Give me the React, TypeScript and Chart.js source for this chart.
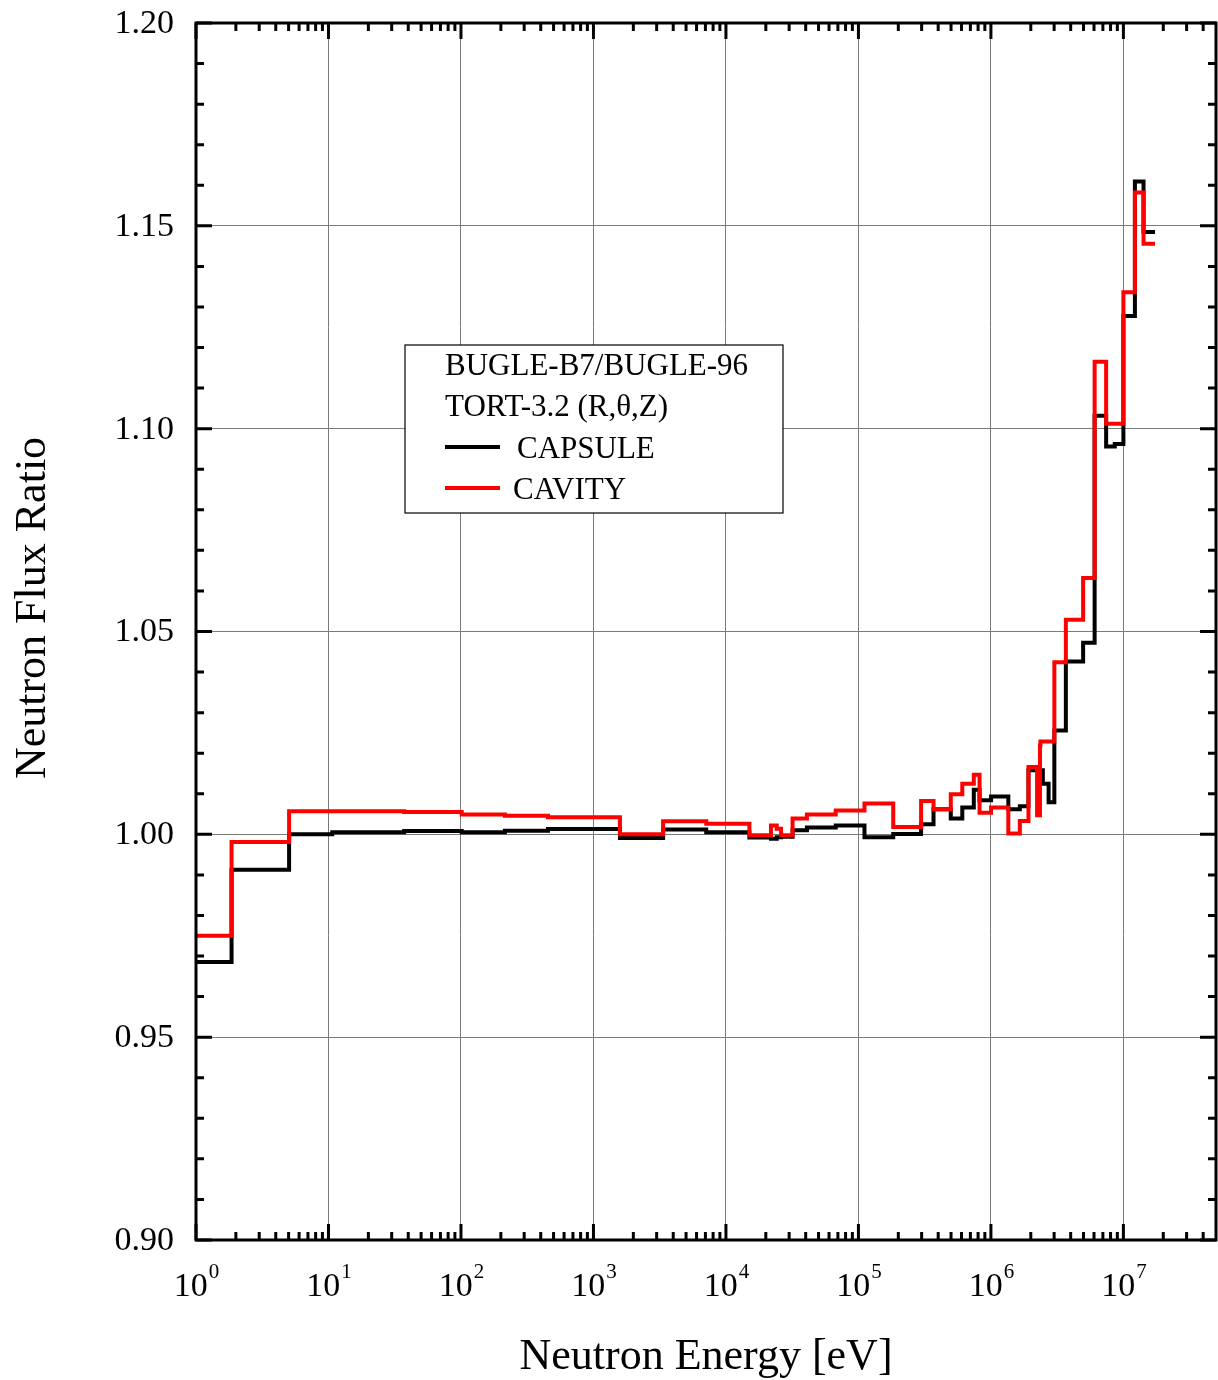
import React, { useEffect, useRef } from 'react';
import { Chart, registerables } from 'chart.js';

Chart.register(...registerables);

// BUGLE-96 group lower energy bounds (eV), ascending, for groups shown
const groupLowerEdges = [
  0.87642, 1.8554, 5.0435, 10.677, 37.267, 101.3, 214.45, 454.0, 1584.6, 3354.6,
  7101.7, 15034, 21875, 24176, 26058, 31828, 40868, 67379, 111090, 183160,
  297210, 368830, 497870, 608100, 742740, 820850, 1002600, 1353400, 1653000, 1920500,
  2231300, 2345700, 2365300, 2466000, 2725300, 3011900, 3678800, 4965900, 6065300, 7408200,
  8607100, 10000000, 12214000, 14191000,
];
const groupTopEdge = 17332000;

const capsuleRatio = [
  0.9685, 0.9913, 1.0, 1.0005, 1.0008, 1.0005, 1.0009, 1.0013, 0.9991, 1.0012,
  1.0005, 0.9992, 0.9989, 0.9993, 0.9994, 1.001, 1.0017, 1.0022, 0.9993, 1.0001,
  1.0025, 1.0062, 1.0039, 1.0066, 1.011, 1.0084, 1.0093, 1.0062, 1.0069, 1.0158,
  1.0158, 1.0158, 1.0158, 1.0125, 1.0079, 1.0256, 1.0426, 1.0472, 1.1032, 1.0956,
  1.0962, 1.1278, 1.1609, 1.1485,
];

const cavityRatio = [
  0.975, 0.9981, 1.0057, 1.0057, 1.0055, 1.0049, 1.0046, 1.0042, 1.0, 1.0032,
  1.0026, 0.9998, 1.0022, 1.0014, 0.9998, 1.0039, 1.0049, 1.0059, 1.0076, 1.0018,
  1.0082, 1.0062, 1.0099, 1.0125, 1.0147, 1.0053, 1.0066, 1.0002, 1.0033, 1.0166,
  1.0047, 1.0219, 1.0229, 1.0229, 1.0229, 1.0424, 1.0529, 1.0632, 1.1165, 1.1012,
  1.1012, 1.1336, 1.1582, 1.1456,
];

const xMin = 1;
const xMax = 5e7;
const xDecadeExponents = [0, 1, 2, 3, 4, 5, 6, 7];
const yTickValues = [0.9, 0.95, 1.0, 1.05, 1.1, 1.15, 1.2];
const yMinorStep = 0.01;

const legendHeader = ['BUGLE-B7/BUGLE-96', 'TORT-3.2 (R,\u03B8,Z)'];
const seriesNames = ['CAPSULE', 'CAVITY'];
const seriesColors = ['#000000', '#ff0000'];
const xTitle = 'Neutron Energy [eV]';
const yTitle = 'Neutron Flux Ratio';

const FONT = '"Liberation Serif", "Times New Roman", Times, serif';

function toSteps(vals: number[]) {
  const pts = groupLowerEdges.map((e, i) => ({ x: e, y: vals[i] }));
  pts.push({ x: groupTopEdge, y: vals[vals.length - 1] });
  return pts;
}

const decorPlugin = {
  id: 'decor',
  afterDraw(chart: any) {
    const { ctx, chartArea: a, scales } = chart;
    const xs = scales.x;
    const ys = scales.y;
    ctx.save();

    // tick marks (inward, all four sides)
    ctx.strokeStyle = '#000';
    ctx.lineWidth = 3;
    ctx.lineCap = 'butt';
    const major = 16;
    const minor = 8;
    const vTick = (x: number, len: number) => {
      ctx.beginPath();
      ctx.moveTo(x, a.top);
      ctx.lineTo(x, a.top + len);
      ctx.moveTo(x, a.bottom);
      ctx.lineTo(x, a.bottom - len);
      ctx.stroke();
    };
    const hTick = (y: number, len: number) => {
      ctx.beginPath();
      ctx.moveTo(a.left, y);
      ctx.lineTo(a.left + len, y);
      ctx.moveTo(a.right, y);
      ctx.lineTo(a.right - len, y);
      ctx.stroke();
    };
    xDecadeExponents.forEach((k) => {
      const base = Math.pow(10, k);
      vTick(xs.getPixelForValue(base), major);
      for (let m = 2; m <= 9; m++) {
        const v = m * base;
        if (v < xMax) vTick(xs.getPixelForValue(v), minor);
      }
    });
    const y0 = yTickValues[0];
    const y1 = yTickValues[yTickValues.length - 1];
    const nMinor = Math.round((y1 - y0) / yMinorStep);
    for (let i = 0; i <= nMinor; i++) {
      const v = y0 + i * yMinorStep;
      hTick(ys.getPixelForValue(v), i % 5 === 0 ? major : minor);
    }

    // frame
    ctx.lineWidth = 3;
    ctx.strokeRect(a.left, a.top, a.right - a.left, a.bottom - a.top);

    // y tick labels
    ctx.fillStyle = '#000';
    ctx.font = `34px ${FONT}`;
    ctx.textAlign = 'right';
    ctx.textBaseline = 'middle';
    yTickValues.forEach((v) => {
      ctx.fillText(v.toFixed(2), a.left - 22, ys.getPixelForValue(v) + 1);
    });

    // x tick labels 10^k
    ctx.textBaseline = 'alphabetic';
    ctx.textAlign = 'left';
    xDecadeExponents.forEach((k) => {
      const x = xs.getPixelForValue(Math.pow(10, k));
      ctx.font = `34px ${FONT}`;
      const w1 = ctx.measureText('10').width;
      ctx.font = `21px ${FONT}`;
      const w2 = ctx.measureText(String(k)).width;
      const start = x - (w1 + w2) / 2;
      ctx.font = `34px ${FONT}`;
      ctx.fillText('10', start, a.bottom + 56);
      ctx.font = `21px ${FONT}`;
      ctx.fillText(String(k), start + w1 + 1, a.bottom + 38);
    });

    // axis titles
    ctx.font = `44px ${FONT}`;
    ctx.textAlign = 'center';
    ctx.fillText(xTitle, (a.left + a.right) / 2, a.bottom + 129);
    ctx.save();
    ctx.translate(45, 608);
    ctx.rotate(-Math.PI / 2);
    ctx.fillText(yTitle, 0, 0);
    ctx.restore();

    // legend box
    const lx = 405;
    const ly = 345;
    const lw = 378;
    const lh = 168;
    ctx.fillStyle = '#fff';
    ctx.fillRect(lx, ly, lw, lh);
    ctx.strokeStyle = '#000';
    ctx.lineWidth = 1.2;
    ctx.strokeRect(lx, ly, lw, lh);
    ctx.fillStyle = '#000';
    ctx.font = `31px ${FONT}`;
    ctx.textAlign = 'left';
    ctx.fillText(legendHeader[0], lx + 40, ly + 30);
    ctx.fillText(legendHeader[1], lx + 40, ly + 71);
    const rowY = [ly + 102, ly + 143];
    const textX = [lx + 112, lx + 108];
    seriesNames.forEach((name, i) => {
      ctx.strokeStyle = seriesColors[i];
      ctx.lineWidth = 4;
      ctx.beginPath();
      ctx.moveTo(lx + 40, rowY[i]);
      ctx.lineTo(lx + 95, rowY[i]);
      ctx.stroke();
      ctx.fillStyle = '#000';
      ctx.fillText(name, textX[i], rowY[i] + 11);
    });

    ctx.restore();
  },
};

export default function App() {
  const ref = useRef<HTMLCanvasElement | null>(null);

  useEffect(() => {
    document.body.style.margin = '0';
    const canvas = ref.current;
    if (!canvas) return;
    const chart = new Chart(canvas, {
      type: 'line',
      data: {
        datasets: [
          {
            label: seriesNames[0],
            data: toSteps(capsuleRatio),
            borderColor: seriesColors[0],
            borderWidth: 4,
            pointRadius: 0,
            stepped: 'before',
            fill: false,
            borderJoinStyle: 'miter',
            order: 2,
          },
          {
            label: seriesNames[1],
            data: toSteps(cavityRatio),
            borderColor: seriesColors[1],
            borderWidth: 4,
            pointRadius: 0,
            stepped: 'before',
            fill: false,
            borderJoinStyle: 'miter',
            order: 1,
          },
        ],
      },
      options: {
        animation: false,
        responsive: false,
        devicePixelRatio: 1,
        parsing: false,
        layout: { padding: { top: 23, right: 2, left: 0, bottom: 0 } },
        plugins: {
          legend: { display: false },
          tooltip: { enabled: false },
          title: { display: false },
        },
        scales: {
          x: {
            type: 'logarithmic',
            min: xMin,
            max: xMax,
            afterBuildTicks: (scale: any) => {
              scale.ticks = xDecadeExponents.map((k) => ({ value: Math.pow(10, k) }));
            },
            afterFit: (scale: any) => {
              scale.height = 140;
            },
            ticks: { display: false },
            grid: { color: '#7a7a7a', lineWidth: 1, drawTicks: false },
            border: { display: false },
          },
          y: {
            type: 'linear',
            min: yTickValues[0],
            max: yTickValues[yTickValues.length - 1],
            afterBuildTicks: (scale: any) => {
              scale.ticks = yTickValues.map((v) => ({ value: v }));
            },
            afterFit: (scale: any) => {
              scale.width = 196;
            },
            ticks: { display: false },
            grid: { color: '#7a7a7a', lineWidth: 1, drawTicks: false },
            border: { display: false },
          },
        },
      },
      plugins: [decorPlugin],
    } as any);
    return () => chart.destroy();
  }, []);

  return (
    <div style={{ width: 1218, height: 1380, background: '#fff' }}>
      <canvas ref={ref} width={1218} height={1380} style={{ display: 'block' }} />
    </div>
  );
}
